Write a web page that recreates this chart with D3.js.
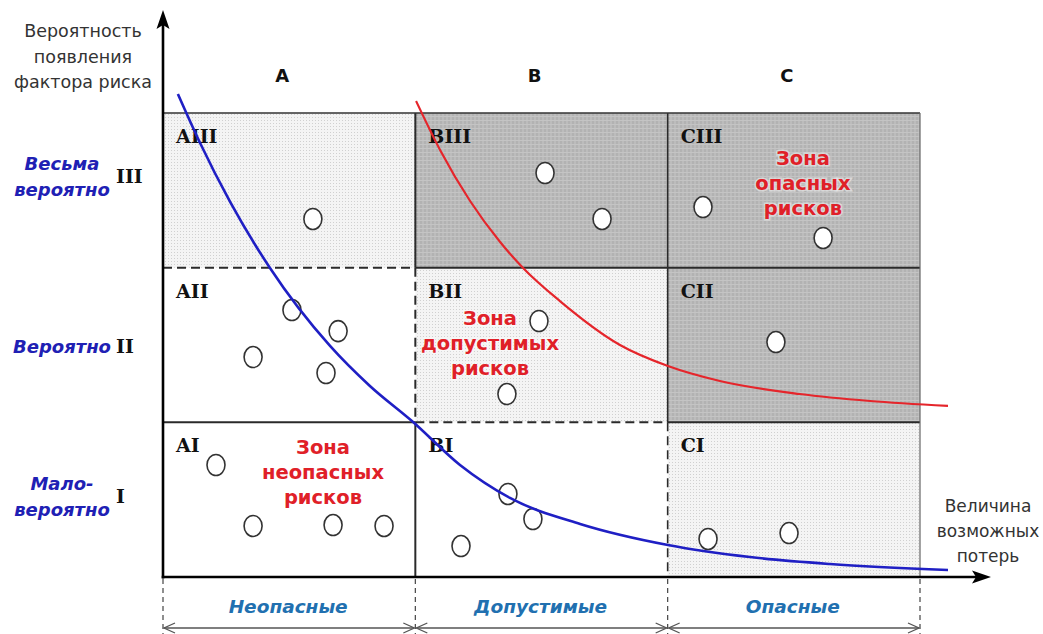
<!DOCTYPE html>
<html><head><meta charset="utf-8">
<script src="https://cdn.jsdelivr.net/npm/d3@7"></script>
<style>body{margin:0;background:#fff}svg{display:block}</style>
</head><body>
<svg id="c" width="1043" height="634"></svg>
<script>
// ---------- data ----------
const columns = ["A", "B", "C"];
const rows = ["I", "II", "III"];
const rowLabels = [["Мало-", "вероятно"], ["Вероятно"], ["Весьма", "вероятно"]];
const lossLabels = ["Неопасные", "Допустимые", "Опасные"];
const yTitle = ["Вероятность", "появления", "фактора риска"];
const xTitle = ["Величина", "возможных", "потерь"];
// zone of each cell, rows from I (bottom) to III (top), columns A..C
const cellZone = [
  ["safe", "safe", "border"],
  ["safe", "border", "danger"],
  ["border", "danger", "danger"]
];
// risk factors (loss, probability) in grid units 0..3
const riskPoints = [
  [0.594, 2.315],
  [1.514, 2.612], [1.740, 2.315],
  [2.140, 2.392], [2.616, 2.192],
  [0.511, 1.726], [0.694, 1.590], [0.357, 1.422], [0.646, 1.319],
  [1.490, 1.655], [1.363, 1.183],
  [2.429, 1.519],
  [0.210, 0.724], [0.357, 0.330], [0.674, 0.336], [0.876, 0.330],
  [1.367, 0.537], [1.466, 0.375], [1.181, 0.200],
  [2.160, 0.246], [2.481, 0.284]
];
// boundary of the zone of non-dangerous risks (blue)
const safeBoundary = [
  [0.059, 3.123], [0.147, 2.806], [0.266, 2.425], [0.424, 1.998], [0.662, 1.494],
  [0.820, 1.235], [0.991, 1.002], [1.177, 0.724], [1.375, 0.511], [1.653, 0.343],
  [2.001, 0.207], [2.326, 0.129], [2.643, 0.084], [3.111, 0.045]
];
// boundary of the zone of dangerous risks (red)
const dangerBoundary = [
  [1.003, 3.077], [1.098, 2.761], [1.217, 2.431], [1.336, 2.166], [1.427, 1.998],
  [1.573, 1.784], [1.811, 1.500], [2.001, 1.364], [2.207, 1.267], [2.524, 1.183],
  [2.802, 1.138], [3.111, 1.106]
];
const zoneLabels = [
  { lines: ["Зона", "неопасных", "рисков"], at: [0.634, 0.795] },
  { lines: ["Зона", "допустимых", "рисков"], at: [1.296, 1.629] },
  { lines: ["Зона", "опасных", "рисков"], at: [2.536, 2.664] }
];

// ---------- drawing ----------
const svg = d3.select("#c");
const x = d3.scaleLinear().domain([0, 3]).range([163, 920]);
const y = d3.scaleLinear().domain([0, 3]).range([577, 113]);

const defs = svg.append("defs");
const pl = defs.append("pattern").attr("id", "light").attr("patternUnits", "userSpaceOnUse")
  .attr("width", 3).attr("height", 3);
pl.append("rect").attr("width", 3).attr("height", 3).attr("fill", "#f4f4f4");
pl.append("rect").attr("width", 1).attr("height", 1).attr("fill", "#d0d0d0");
const pd = defs.append("pattern").attr("id", "dark").attr("patternUnits", "userSpaceOnUse")
  .attr("width", 4).attr("height", 4);
pd.append("rect").attr("width", 4).attr("height", 4).attr("fill", "#bcbcbc");
pd.append("rect").attr("width", 2).attr("height", 4).attr("fill", "#b2b2b2");
pd.append("rect").attr("width", 4).attr("height", 1).attr("fill", "#c4c4c4");

const zoneFill = { safe: "#ffffff", border: "url(#light)", danger: "url(#dark)" };

const cells = [];
rows.forEach((r, ri) => columns.forEach((c, ci) => cells.push({ r, c, ri, ci, zone: cellZone[ri][ci] })));

svg.append("g").selectAll("rect").data(cells).join("rect")
  .attr("x", d => x(d.ci)).attr("y", d => y(d.ri + 1))
  .attr("width", d => x(d.ci + 1) - x(d.ci)).attr("height", d => y(d.ri) - y(d.ri + 1))
  .attr("fill", d => zoneFill[d.zone]);

// grid edges
const edges = [];
rows.forEach((r, ri) => columns.forEach((c, ci) => {
  if (ci > 0) edges.push({ x1: x(ci), x2: x(ci), y1: y(ri + 1), y2: y(ri), a: cellZone[ri][ci - 1], b: cellZone[ri][ci], w: ci === 1 ? 2 : 1.6 });
  if (ri > 0) edges.push({ x1: x(ci), x2: x(ci + 1), y1: y(ri), y2: y(ri), a: cellZone[ri - 1][ci], b: cellZone[ri][ci], w: 2 });
}));
const isDashed = e => (e.a === "safe" && e.b === "border") || (e.a === "border" && e.b === "safe");
const gEdges = svg.append("g");
gEdges.selectAll("line").data(edges).join("line")
  .attr("x1", d => d.x1).attr("x2", d => d.x2).attr("y1", d => d.y1).attr("y2", d => d.y2)
  .attr("stroke", "#2a2a2a")
  .attr("stroke-width", d => d.w)
  .attr("stroke-dasharray", d => isDashed(d) ? "9,5" : null);
gEdges.append("line").attr("x1", x(0)).attr("x2", x(3)).attr("y1", y(3)).attr("y2", y(3))
  .attr("stroke", "#333").attr("stroke-width", 1.6);
gEdges.append("line").attr("x1", x(3)).attr("x2", x(3)).attr("y1", y(3)).attr("y2", y(0))
  .attr("stroke", "#666").attr("stroke-width", 1.2);

// dashed extensions below axis
svg.append("g").selectAll("line").data(d3.range(columns.length + 1)).join("line")
  .attr("x1", d => x(d)).attr("x2", d => x(d)).attr("y1", y(0) + 2).attr("y2", 634)
  .attr("stroke", "#444").attr("stroke-width", 1.2).attr("stroke-dasharray", "5,4");

// double arrows for loss classes
const gArr = svg.append("g").attr("stroke", "#555").attr("stroke-width", 1.3).attr("fill", "none");
columns.forEach((c, ci) => {
  const x1 = x(ci) + 1, x2 = x(ci + 1) - 1, ya = 628;
  gArr.append("line").attr("x1", x1).attr("x2", x2).attr("y1", ya).attr("y2", ya);
  gArr.append("path").attr("d", `M${x1 + 11},${ya - 5}L${x1},${ya}L${x1 + 11},${ya + 5}`);
  gArr.append("path").attr("d", `M${x2 - 11},${ya - 5}L${x2},${ya}L${x2 - 11},${ya + 5}`);
});
svg.append("g").selectAll("text").data(lossLabels).join("text")
  .attr("x", (d, i) => (x(i) + x(i + 1)) / 2 - 1).attr("y", 613)
  .attr("text-anchor", "middle")
  .attr("font-family", "DejaVu Sans").attr("font-weight", "bold").attr("font-style", "italic")
  .attr("font-size", 18.5).attr("fill", "#2170b0").text(d => d);

// risk points
svg.append("g").selectAll("ellipse").data(riskPoints).join("ellipse")
  .attr("cx", d => x(d[0])).attr("cy", d => y(d[1]))
  .attr("rx", 9).attr("ry", 10.5)
  .attr("fill", "#fff").attr("stroke", "#333").attr("stroke-width", 1.6);

// cell labels
svg.append("g").selectAll("text").data(cells).join("text")
  .attr("x", d => x(d.ci) + 13).attr("y", d => y(d.ri + 1) + 30)
  .attr("font-family", "DejaVu Serif").attr("font-weight", "bold").attr("font-size", 19)
  .attr("fill", "#111").text(d => d.c + d.r);

// column headers
svg.append("g").selectAll("text").data(columns).join("text")
  .attr("x", (d, i) => (x(i) + x(i + 1)) / 2 - 7).attr("y", 82)
  .attr("text-anchor", "middle")
  .attr("font-family", "DejaVu Sans").attr("font-weight", "bold").attr("font-size", 18)
  .attr("fill", "#111").text(d => d);

// curves
const line = d3.line().x(d => x(d[0])).y(d => y(d[1])).curve(d3.curveMonotoneX);
svg.append("path").attr("d", line(safeBoundary)).attr("fill", "none")
  .attr("stroke", "#1f1fc4").attr("stroke-width", 2.6);
svg.append("path").attr("d", line(dangerBoundary)).attr("fill", "none")
  .attr("stroke", "#e5252b").attr("stroke-width", 2.2);

// zone labels
const gz = svg.append("g").selectAll("text").data(zoneLabels).join("text")
  .attr("text-anchor", "middle")
  .attr("font-family", "DejaVu Sans").attr("font-weight", "bold").attr("font-size", 19.5)
  .attr("fill", "#e02028")
  .attr("stroke", "rgba(255,255,255,0.45)").attr("stroke-width", 3).attr("paint-order", "stroke");
gz.each(function (d) {
  d3.select(this).selectAll("tspan").data(d.lines).join("tspan")
    .attr("x", x(d.at[0])).attr("y", (l, i) => y(d.at[1]) + i * 25).text(l => l);
});

// axes
const gAx = svg.append("g");
gAx.append("line").attr("x1", 163).attr("x2", 163).attr("y1", y(0) + 1.5).attr("y2", 24)
  .attr("stroke", "#000").attr("stroke-width", 2.6);
gAx.append("path").attr("d", "M163,10L169.5,29L163,25L156.5,29Z").attr("fill", "#000");
gAx.append("line").attr("x1", 161.7).attr("x2", 978).attr("y1", y(0)).attr("y2", y(0))
  .attr("stroke", "#000").attr("stroke-width", 2.6);
gAx.append("path").attr("d", `M991,${y(0)}L972,${y(0) - 6.5}L976,${y(0)}L972,${y(0) + 6.5}Z`).attr("fill", "#000");

// axis titles
svg.append("text").attr("text-anchor", "middle")
  .attr("font-family", "DejaVu Sans").attr("font-size", 17.5).attr("fill", "#333")
  .selectAll("tspan").data(yTitle).join("tspan")
  .attr("x", 83).attr("y", (d, i) => 37 + i * 25.5).text(d => d);
svg.append("text").attr("text-anchor", "middle")
  .attr("font-family", "DejaVu Sans").attr("font-size", 17).attr("fill", "#333")
  .selectAll("tspan").data(xTitle).join("tspan")
  .attr("x", 988).attr("y", (d, i) => 512 + i * 25).text(d => d);

// row labels
const labelDy = [-3, 2, -13];
rows.forEach((r, ri) => {
  const yc = (y(ri) + y(ri + 1)) / 2 + labelDy[ri];
  const lines = rowLabels[ri];
  const t = svg.append("text").attr("text-anchor", "middle")
    .attr("font-family", "DejaVu Sans").attr("font-weight", "bold").attr("font-style", "italic")
    .attr("font-size", 18).attr("fill", "#2020b4");
  t.selectAll("tspan").data(lines).join("tspan")
    .attr("x", 62).attr("y", (d, i) => yc + (i - (lines.length - 1) / 2) * 26 + 6).text(d => d);
  svg.append("text").attr("x", 116).attr("y", yc + 6)
    .attr("font-family", "DejaVu Serif").attr("font-weight", "bold").attr("font-size", 19)
    .attr("fill", "#111").text(r);
});
</script>
</body></html>
